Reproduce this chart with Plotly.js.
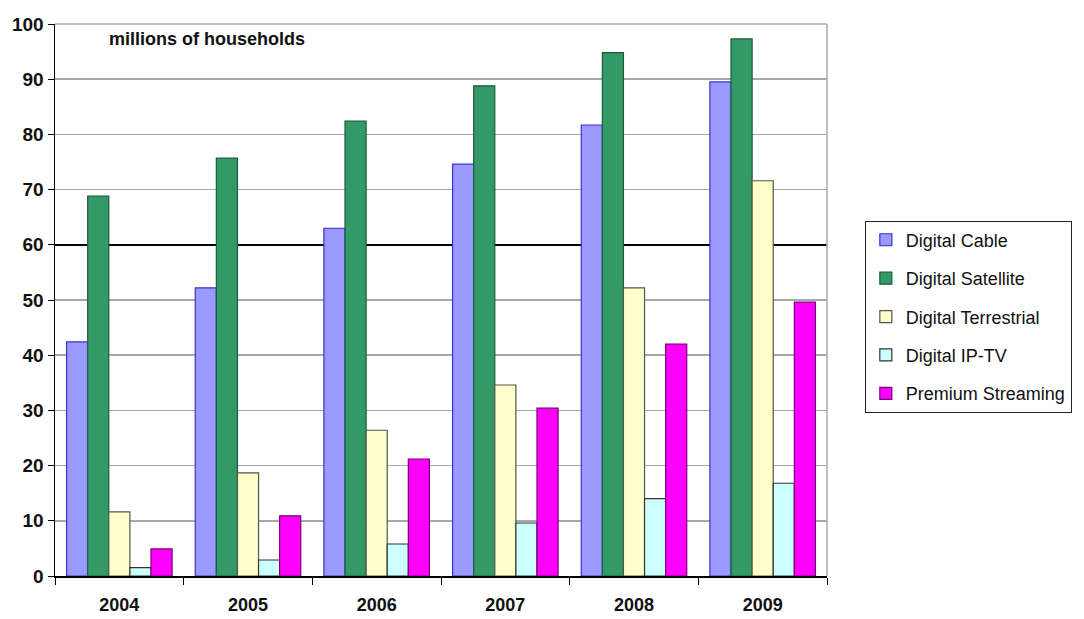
<!DOCTYPE html>
<html>
<head>
<meta charset="utf-8">
<script src="https://cdn.plot.ly/plotly-3.0.1.min.js"></script>
<style>html,body{margin:0;padding:0;background:#fff;}#chart{width:1084px;height:619px;}</style>
</head>
<body>
<div id="chart"></div>
<script>
const years = ['2004', '2005', '2006', '2007', '2008', '2009'];
const digitalCable = [42.4, 52.2, 63.0, 74.6, 81.7, 89.5];
const digitalSatellite = [68.8, 75.7, 82.4, 88.8, 94.8, 97.3];
const digitalTerrestrial = [11.6, 18.7, 26.4, 34.6, 52.2, 71.6];
const digitalIPTV = [1.5, 2.9, 5.8, 9.6, 14.0, 16.8];
const premiumStreaming = [4.9, 10.9, 21.2, 30.4, 42.0, 49.6];
const seriesNames = ['Digital Cable', 'Digital Satellite', 'Digital Terrestrial', 'Digital IP-TV', 'Premium Streaming'];
const yTicks = [0, 10, 20, 30, 40, 50, 60, 70, 80, 90, 100];
const highlightTick = [60];

const fills = ['#9999ff', '#339966', '#ffffcc', '#ccffff', '#ff00ff'];
const edges = ['#3333cc', '#1d5c3b', '#55554a', '#333333', '#7a007a'];
const values = [digitalCable, digitalSatellite, digitalTerrestrial, digitalIPTV, premiumStreaming];

const traces = values.map((v, i) => ({
  type: 'bar',
  name: seriesNames[i],
  legendgroup: seriesNames[i],
  x: years,
  y: v,
  marker: {color: fills[i], line: {color: edges[i], width: 1.2}},
  hoverinfo: 'x+y+name'
}));
// empty helper trace so the overlay axis (black grid line at 60) is drawn
traces.push({type: 'scatter', mode: 'none', x: [], y: [], yaxis: 'y2', showlegend: false, hoverinfo: 'skip'});

const layout = {
  width: 1084, height: 619,
  margin: {l: 55, r: 254, t: 24, b: 43},
  paper_bgcolor: '#ffffff',
  plot_bgcolor: '#ffffff',
  barmode: 'group',
  bargap: 0.18,
  bargroupgap: 0,
  showlegend: true,
  font: {family: 'Liberation Sans, Arial, sans-serif', color: '#111'},
  xaxis: {
    type: 'category',
    tickson: 'boundaries',
    ticks: 'outside', ticklen: 7, tickcolor: '#000',
    showline: true, linecolor: '#000', linewidth: 1.5,
    showgrid: false,
    ticklabelstandoff: 12,
    tickfont: {size: 18, weight: 'bold', color: '#111'}
  },
  yaxis: {
    range: [0, 100],
    tickvals: yTicks,
    ticks: 'outside', ticklen: 6, tickcolor: '#000',
    showline: true, linecolor: '#000', linewidth: 1.5,
    gridcolor: '#a8a8a8', gridwidth: 1.5,
    zeroline: false,
    tickfont: {size: 19, weight: 'bold', color: '#111'}
  },
  yaxis2: {
    overlaying: 'y',
    range: [0, 100],
    tickvals: highlightTick,
    showticklabels: false,
    ticks: '',
    showline: false,
    zeroline: false,
    showgrid: true,
    gridcolor: '#000', gridwidth: 1.5
  },
  legend: {
    x: 1.049, xanchor: 'left',
    y: 0.47, yanchor: 'middle',
    bordercolor: '#222', borderwidth: 1,
    font: {size: 18, color: '#111'},
    itemwidth: 30,
    tracegroupgap: 12
  },
  shapes: [
    {type: 'line', xref: 'paper', x0: 1, x1: 1, yref: 'paper', y0: 0, y1: 1, line: {color: '#a8a8a8', width: 1.5}},
    {type: 'line', xref: 'paper', x0: 0, x1: 1, yref: 'paper', y0: 1, y1: 1, line: {color: '#a8a8a8', width: 1.5}}
  ],
  annotations: [{
    xref: 'paper', yref: 'paper', x: 0.068, y: 0.972, xanchor: 'left', yanchor: 'middle',
    text: 'millions of households', showarrow: false,
    font: {size: 18, weight: 'bold', color: '#111'}
  }]
};

Plotly.newPlot('chart', traces, layout, {displayModeBar: false, staticPlot: true});
</script>
</body>
</html>
